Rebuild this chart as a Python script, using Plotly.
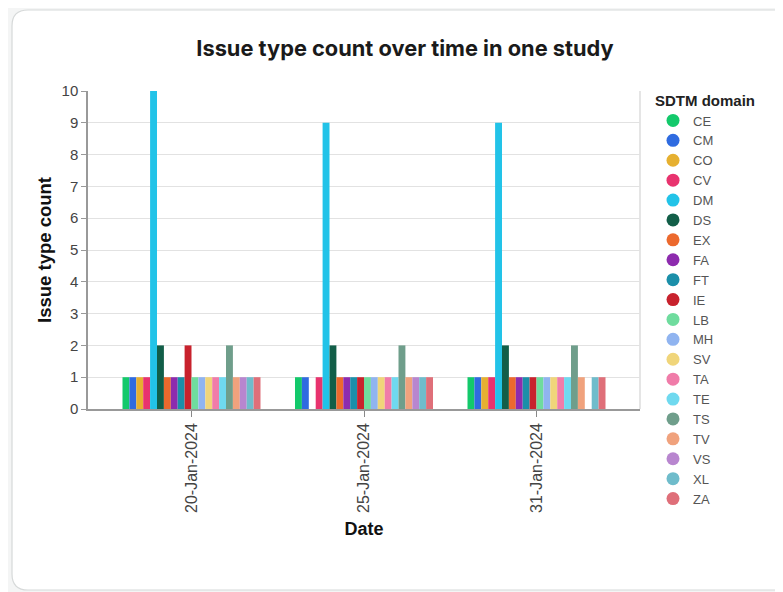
import plotly.graph_objects as go

dates = ["20-Jan-2024", "25-Jan-2024", "31-Jan-2024"]
domains = ["CE", "CM", "CO", "CV", "DM", "DS", "EX", "FA", "FT", "IE",
           "LB", "MH", "SV", "TA", "TE", "TS", "TV", "VS", "XL", "ZA"]
colors = ["#13c96b", "#2f6be0", "#e6b030", "#e8336e", "#22c3e8", "#125e48",
          "#ec692d", "#8d2bae", "#1b8fa9", "#c8222d", "#6fdc9e", "#90b4f0",
          "#f0d57a", "#f07ca9", "#6fd9ef", "#6f9e8b", "#f0a27d", "#b886cf",
          "#6fbccb", "#df6f79"]
counts = {
    "CE": [1, 1, 1], "CM": [1, 1, 1], "CO": [1, None, 1], "CV": [1, 1, 1],
    "DM": [10, 9, 9], "DS": [2, 2, 2], "EX": [1, 1, 1], "FA": [1, 1, 1],
    "FT": [1, 1, 1], "IE": [2, 1, 1], "LB": [1, 1, 1], "MH": [1, 1, 1],
    "SV": [1, 1, 1], "TA": [1, 1, 1], "TE": [1, 1, 1], "TS": [2, 2, 2],
    "TV": [1, 1, 1], "VS": [1, 1, None], "XL": [1, 1, 1], "ZA": [1, 1, 1],
}

W, H = 783, 592
ML, MT, PW, PH = 80, 83, 552, 318
MR, MB = W - ML - PW, H - MT - PH

fig = go.Figure()
for d, c in zip(domains, colors):
    fig.add_trace(go.Bar(x=dates, y=counts[d], name=d, marker_color=c,
                         marker_line_width=0, showlegend=False))
for d, c in zip(domains, colors):
    fig.add_trace(go.Scatter(x=[None], y=[None], mode="markers", name=d,
                             marker=dict(color=c, size=13, symbol="circle"),
                             showlegend=True))

def px(x):
    return (x - ML) / PW

def py(y):
    return (H - MB - y) / PH

L, T, R, B, r = 4, 2, 800, 582, 16
path = (f"M {px(L+r)} {py(T)} L {px(R-r)} {py(T)} Q {px(R)} {py(T)} {px(R)} {py(T+r)} "
        f"L {px(R)} {py(B-r)} Q {px(R)} {py(B)} {px(R-r)} {py(B)} "
        f"L {px(L+r)} {py(B)} Q {px(L)} {py(B)} {px(L)} {py(B-r)} "
        f"L {px(L)} {py(T+r)} Q {px(L)} {py(T)} {px(L+r)} {py(T)} Z")

fig.update_layout(
    width=W, height=H,
    margin=dict(l=ML, r=MR, t=MT, b=MB, autoexpand=False),
    paper_bgcolor="#f4f5f5",
    plot_bgcolor="white",
    barmode="group", bargap=0.2, bargroupgap=0,
    font=dict(family="Liberation Sans, Arial, sans-serif", size=13, color="#333"),
    title=dict(text="<b>Issue type count over time in one study</b>",
               x=397 / W, xanchor="center", y=1 - 40 / H, yanchor="middle",
               font=dict(family="Inter, sans-serif", size=21.8, color="#1a1a1a")),
    shapes=[
        dict(type="path", xref="paper", yref="paper", path=path,
             fillcolor="white", line=dict(color="#d6d9d9", width=1.2), layer="below"),
        dict(type="line", xref="paper", yref="paper", x0=1, x1=1, y0=0, y1=1,
             line=dict(color="#dddddd", width=1.5), layer="below"),
    ],
    legend=dict(
        title=dict(text="<b>SDTM domain</b>", font=dict(size=15, color="#222")),
        x=px(645), xanchor="left", y=py(78), yanchor="top",
        font=dict(size=13, color="#555"), bgcolor="rgba(0,0,0,0)",
        tracegroupgap=0, maxheight=600,
    ),
    xaxis=dict(
        type="category", range=[-0.6, 2.6],
        title=dict(text="<b>Date</b>", font=dict(size=18, color="#111"), standoff=10),
        tickangle=-90, ticks="outside", ticklen=6, tickcolor="#888",
        showline=True, linecolor="#999", linewidth=1.5,
        showgrid=False, tickfont=dict(size=16, color="#444"),
    ),
    yaxis=dict(
        range=[0, 10], dtick=1,
        title=dict(text="<b>Issue type count</b>", font=dict(size=18.5, color="#111"), standoff=5),
        ticks="outside", ticklen=5, tickcolor="#999",
        showline=True, linecolor="#999", linewidth=1.5,
        gridcolor="#e2e2e2", gridwidth=1, zeroline=False,
        tickfont=dict(size=15, color="#444"),
    ),
)

fig.write_html("out.html")
